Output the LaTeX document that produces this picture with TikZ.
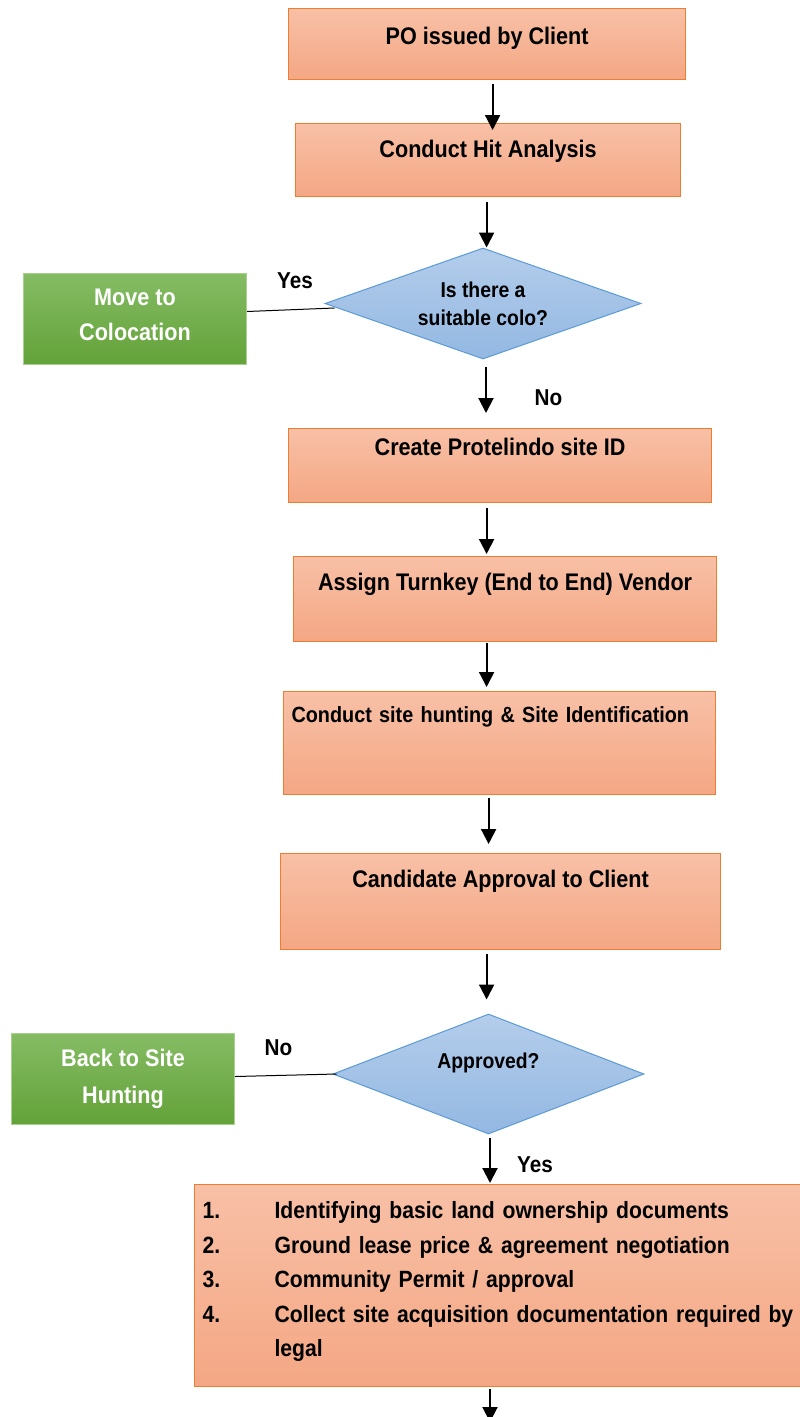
\documentclass[tikz,border=0pt]{standalone}
\usepackage{fontspec}
\setmainfont{Liberation Sans}[FakeStretch=0.9]
\usetikzlibrary{shapes.geometric,arrows.meta}
\definecolor{boxtop}{RGB}{248,192,166}
\definecolor{boxbottom}{RGB}{244,167,132}
\definecolor{boxline}{RGB}{237,125,49}
\definecolor{greentop}{RGB}{133,188,100}
\definecolor{greenbottom}{RGB}{99,162,57}
\definecolor{greenline}{RGB}{169,209,142}
\definecolor{bluetop}{RGB}{180,205,235}
\definecolor{bluebottom}{RGB}{147,184,226}
\definecolor{blueline}{RGB}{91,155,213}
\tikzset{
    step-box/.style = {draw=boxline, line width=1.2pt, top color=boxtop, bottom color=boxbottom, rectangle, inner sep=0pt, anchor=north west, font=\fontsize{24}{30}\selectfont\bfseries},
    exit-box/.style = {draw=greenline, line width=1pt, top color=greentop, bottom color=greenbottom, rectangle, inner sep=0pt, anchor=north west, align=center, text=white, font=\fontsize{24}{35}\selectfont\bfseries},
    decision/.style = {diamond, draw=blueline, line width=1pt, top color=bluetop, bottom color=bluebottom, inner sep=0pt, align=center, font=\fontsize{21.5}{28}\selectfont\bfseries},
    flow/.style = {line width=2pt, -{Triangle[width=15pt,length=15pt]}},
    branch/.style = {line width=1pt},
    answer/.style = {anchor=base, font=\fontsize{23}{28}\selectfont\bfseries},
}

\begin{document}
\begin{tikzpicture}[x=1pt,y=-1pt]
\path[use as bounding box, fill=white] (0,0) rectangle (800,1417);

% main steps
\node[step-box, minimum width=397pt, text height=36pt, text depth=35pt] (po) at (288,8) {PO issued by Client};
\node[step-box, minimum width=385pt, text height=34pt, text depth=39pt] (hit) at (295,123) {Conduct Hit Analysis};
\node[decision, aspect=2.85, minimum width=316pt, minimum height=111pt] (colo-q) at (483,303.5) {Is there a\\suitable colo?};
\node[exit-box, minimum width=223pt, minimum height=91pt] (colo) at (23,273) {Move to\\Colocation\rule[-9pt]{0pt}{9pt}};
\node[step-box, minimum width=423pt, text height=27pt, text depth=47pt] (site) at (288,428) {Create Protelindo site ID};
\node[step-box, minimum width=423pt, text height=34pt, text depth=51pt] (vendor) at (293,556) {Assign Turnkey (End to End) Vendor};
\node[step-box, text width=416pt, inner xsep=8pt, align=left, text height=31pt, text depth=72pt, font=\fontsize{22}{28}\selectfont\bfseries] (hunt) at (283,691) {Conduct site hunting \& Site Identification};
\node[step-box, minimum width=440pt, text height=34pt, text depth=62pt] (cand) at (280,853) {Candidate Approval to Client};
\node[decision, aspect=2.6, minimum width=311pt, minimum height=120pt, text height=17pt, text depth=29pt] (appr-q) at (488.5,1074) {Approved?};
\node[exit-box, minimum width=223pt, minimum height=91pt, font=\fontsize{24}{37}\selectfont\bfseries] (back) at (11,1033) {Back to Site\\Hunting};
\node[step-box, text width=600pt, inner xsep=8pt, align=left, text height=34pt, text depth=168pt, font=\fontsize{23.5}{34.5}\selectfont\bfseries] (acq) at (194,1184) {%
\makebox[72pt][l]{1.}Identifying basic land ownership documents\\
\makebox[72pt][l]{2.}Ground lease price \& agreement negotiation\\
\makebox[72pt][l]{3.}Community Permit / approval\\
\makebox[72pt][l]{4.}Collect site acquisition documentation required by\\
\hspace*{72pt}legal};
\coordinate (next) at (490,1422);

% answers
\node[answer] (colo-yes) at (295,288) {Yes};
\node[answer] (colo-no) at (548.5,405) {No};
\node[answer] (appr-no) at (278.5,1055) {No};
\node[answer] (appr-yes) at (535,1172) {Yes};

% arrows
\draw[flow] ([xshift=5.5pt,yshift=-4pt]po.south) -- ([xshift=5.5pt,yshift=-7pt]po.south |- hit.north);
\draw[flow] ([xshift=-1.5pt,yshift=-5pt]hit.south) -- ([xshift=-1.5pt]hit.south |- colo-q.north);
\draw[flow] ([xshift=3pt,yshift=-7pt]colo-q.south) -- ([xshift=3pt,yshift=15pt]colo-q.south |- site.north);
\draw[flow] ([xshift=-13.5pt,yshift=-5pt]site.south) -- ([xshift=-13.5pt,yshift=2pt]site.south |- vendor.north);
\draw[flow] ([xshift=-18.5pt,yshift=-1pt]vendor.south) -- ([xshift=-18.5pt,yshift=4pt]vendor.south |- hunt.north);
\draw[flow] ([xshift=-11pt,yshift=-3pt]hunt.south) -- ([xshift=-11pt,yshift=9pt]hunt.south |- cand.north);
\draw[flow] ([xshift=-14pt,yshift=-4pt]cand.south) -- ([xshift=-14pt,yshift=14pt]cand.south |- appr-q.north);
\draw[flow] ([xshift=1.5pt,yshift=-3pt]appr-q.south) -- ([xshift=1.5pt,yshift=1pt]appr-q.south |- acq.north);
\draw[flow] ([yshift=-2pt]acq.south -| next) -- (next);

% side branches
\draw[branch] ([yshift=7.5pt]colo.east) -- ([xshift=10pt,yshift=-4.5pt]colo-q.west);
\draw[branch] ([yshift=2.5pt]back.east) -- ([xshift=4pt]appr-q.west);
\end{tikzpicture}
\end{document}
